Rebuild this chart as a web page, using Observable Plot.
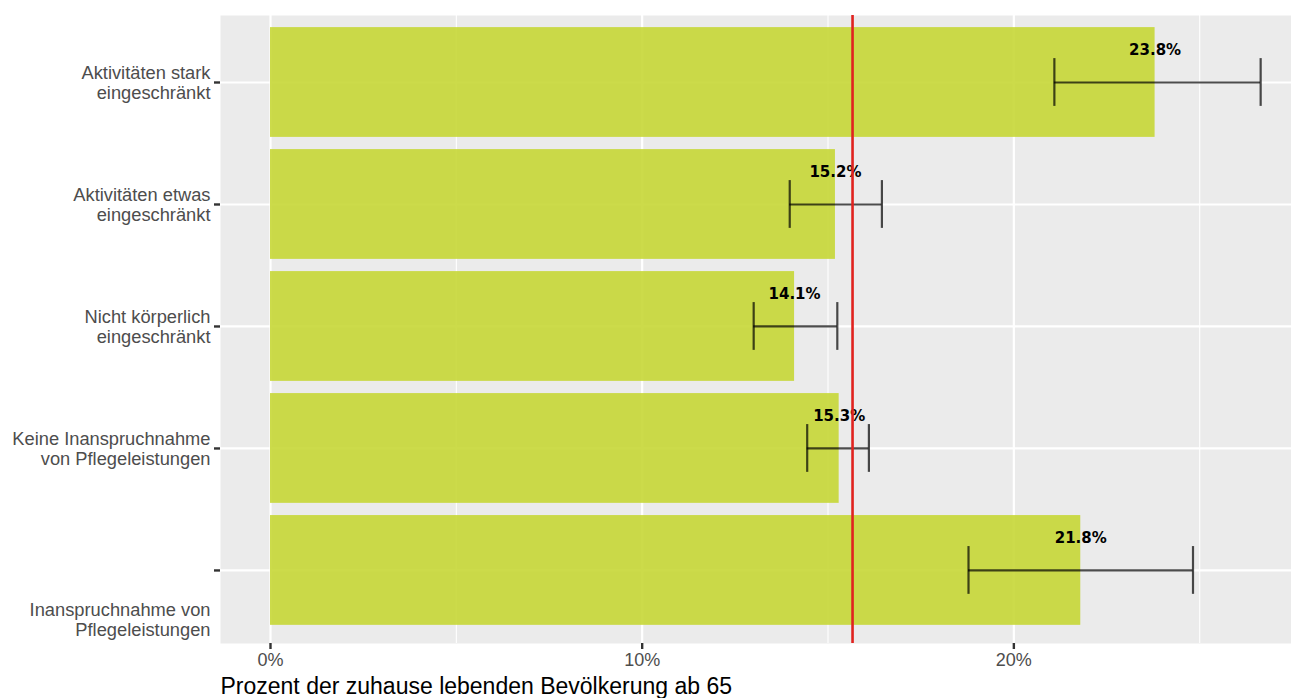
<!DOCTYPE html>
<html>
<head>
<meta charset="utf-8">
<script src="https://cdn.jsdelivr.net/npm/d3@7"></script>
<script src="https://cdn.jsdelivr.net/npm/@observablehq/plot@0.6"></script>
<style>
  html, body { margin: 0; padding: 0; background: #ffffff; }
  #chart svg { display: block; }
</style>
</head>
<body>
<div id="chart"></div>
<script>
// Categories (top to bottom)
const categories = [
  "Aktivitäten stark eingeschränkt",
  "Aktivitäten etwas eingeschränkt",
  "Nicht körperlich eingeschränkt",
  "Keine Inanspruchnahme von Pflegeleistungen",
  "Inanspruchnahme von Pflegeleistungen"
];
const categoryLabels = [
  "Aktivitäten stark\neingeschränkt",
  "Aktivitäten etwas\neingeschränkt",
  "Nicht körperlich\neingeschränkt",
  "Keine Inanspruchnahme\nvon Pflegeleistungen",
  "Inanspruchnahme von\nPflegeleistungen"
];
// Percent values and confidence intervals
const values = [23.8, 15.2, 14.1, 15.3, 21.8];
const lower  = [21.09, 13.97, 13.0, 14.44, 18.78];
const upper  = [26.64, 16.45, 15.25, 16.1, 24.82];
// Overall reference value (red line)
const referenceValue = [15.66];
// Axis ticks
const xMajorTicks = [0, 10, 20];
const xMinorTicks = [5, 15, 25];
const xTickLabels = ["0%", "10%", "20%"];
const xTitle = "Prozent der zuhause lebenden Bevölkerung ab 65";

const data = categories.map((c, i) => ({cat: c, value: values[i], lo: lower[i], hi: upper[i]}));
const labelOf = new Map(categories.map((c, i) => [c, categoryLabels[i]]));
const xLabelOf = new Map(xMajorTicks.map((t, i) => [t, xTickLabels[i]]));
const lastCat = categories[categories.length - 1];

const font = "'Liberation Sans', Arial, sans-serif";

const chart = Plot.plot({
  width: 1291,
  height: 698,
  marginLeft: 220,
  marginRight: 0,
  marginTop: 15,
  marginBottom: 55,
  style: {fontFamily: font, fontSize: "18px", background: "white", color: "#4d4d4d"},
  x: {domain: [-1.345, 27.47]},
  y: {domain: categories, paddingInner: 0.1, paddingOuter: 0.124, align: 0.4, round: false},
  marks: [
    Plot.frame({fill: "#ebebeb", stroke: null}),
    Plot.gridX(xMinorTicks, {stroke: "white", strokeOpacity: 1, strokeWidth: 1.1}),
    Plot.gridX(xMajorTicks, {stroke: "white", strokeOpacity: 1, strokeWidth: 2.2}),
    Plot.gridY({stroke: "white", strokeOpacity: 1, strokeWidth: 2.2}),
    Plot.barX(data, {x: "value", y: "cat", fill: "#c7d736", fillOpacity: 0.9, insetTop: 0, insetBottom: 0}),
    Plot.ruleY(data, {y: "cat", x1: "lo", x2: "hi", stroke: "black", strokeOpacity: 0.7, strokeWidth: 2.2}),
    Plot.tickX(data, {x: "lo", y: "cat", stroke: "black", strokeOpacity: 0.7, strokeWidth: 2.2, insetTop: 31, insetBottom: 31}),
    Plot.tickX(data, {x: "hi", y: "cat", stroke: "black", strokeOpacity: 0.7, strokeWidth: 2.2, insetTop: 31, insetBottom: 31}),
    Plot.text(data, {x: "value", y: "cat", text: d => d.value.toFixed(1) + "%", dy: -32,
      fontFamily: "'DejaVu Sans', sans-serif", fontWeight: "bold", fontSize: 15, fill: "black"}),
    Plot.ruleX(referenceValue, {stroke: "#e0231f", strokeWidth: 2.6}),
    // y axis ticks
    Plot.axisY({tickSize: 6, tickFormat: () => "", stroke: "#333333", strokeWidth: 2.4, label: null}),
    // y axis labels (all but last)
    Plot.axisY(categories.slice(0, -1), {tickSize: 0, tickPadding: 10, tickFormat: d => labelOf.get(d),
      fill: "#4d4d4d", fontSize: 18.3, lineHeight: 1.1, label: null}),
    // last label is shifted below its tick
    Plot.axisY([lastCat], {tickSize: 0, tickPadding: 10, tickFormat: d => labelOf.get(d),
      fill: "#4d4d4d", fontSize: 18.3, lineHeight: 1.1, dy: 49, label: null}),
    // x axis
    Plot.axisX(xMajorTicks, {tickSize: 6, tickPadding: 4, tickFormat: d => xLabelOf.get(d),
      stroke: "#333333", strokeWidth: 2.4, fill: "#4d4d4d", fontSize: 18, label: null}),
    Plot.text([xTitle], {frameAnchor: "bottom-left", textAnchor: "start", lineAnchor: "middle",
      dy: 43, fontSize: 23, fill: "black", fontFamily: font})
  ]
});
document.getElementById("chart").appendChild(chart);
</script>
</body>
</html>
